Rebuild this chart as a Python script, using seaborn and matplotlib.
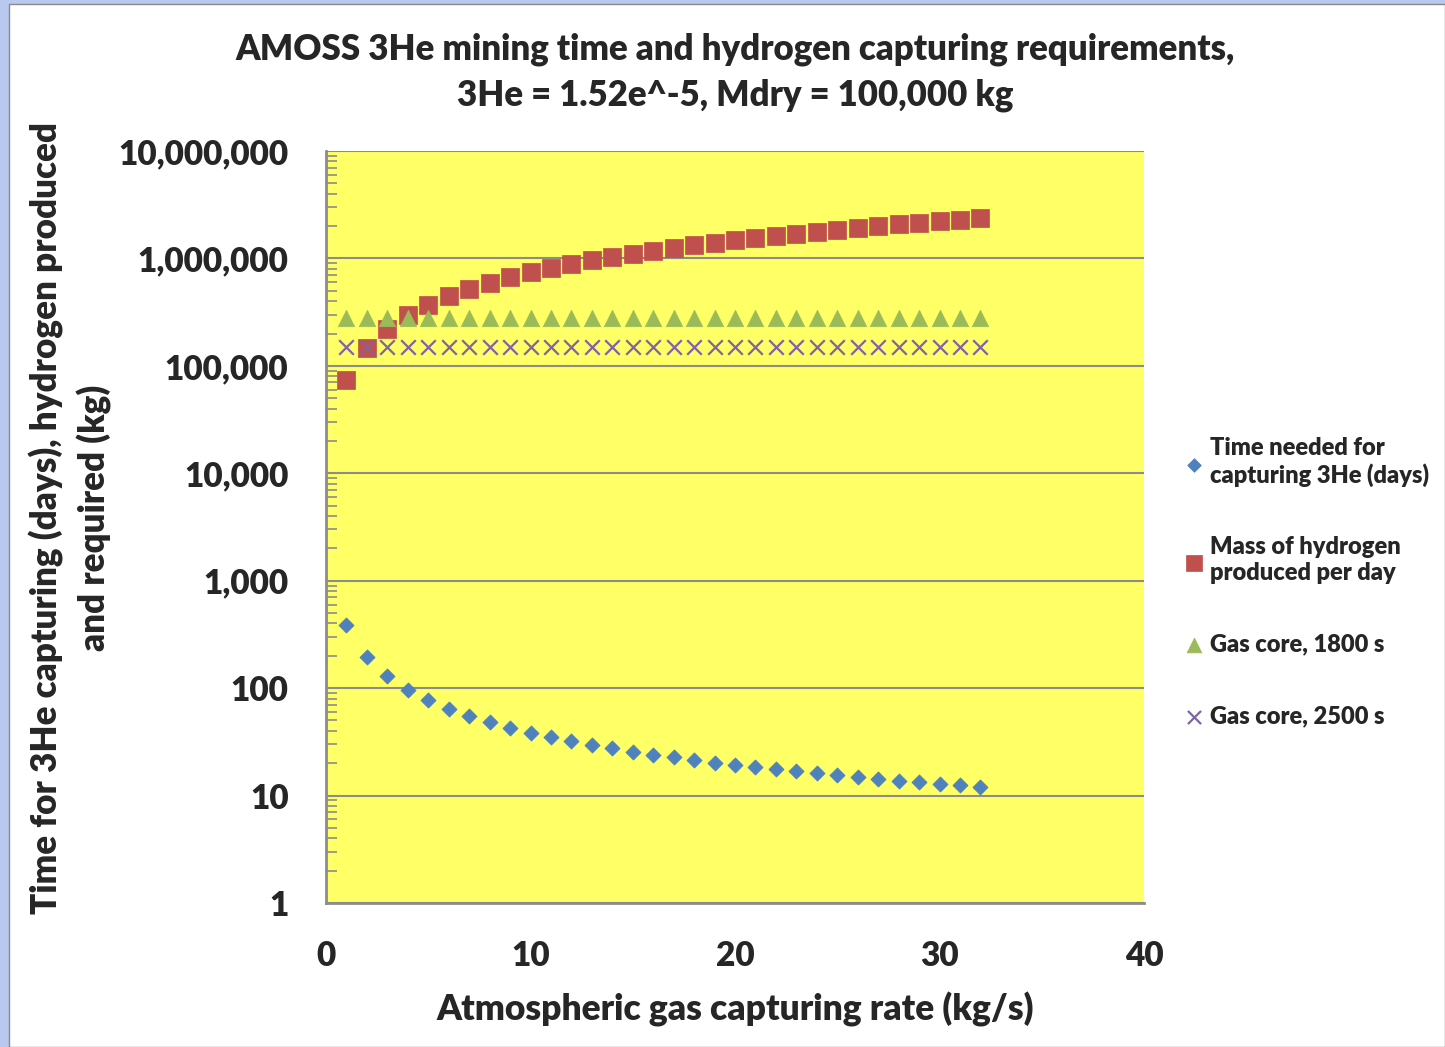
import numpy as np
import pandas as pd
import matplotlib
matplotlib.use('Agg')
import matplotlib.pyplot as plt
from matplotlib.patches import Rectangle
from matplotlib.ticker import FuncFormatter, LogLocator, NullFormatter
import seaborn as sns

# capturing rate (kg/s)
rate = list(range(1, 33))

# time needed for capturing 3He (days)
time_days = [386, 193, 129, 97, 77, 64, 55, 48, 43, 38.6, 35.1, 32.2, 29.7, 27.6,
             25.7, 24.1, 22.7, 21.4, 20.3, 19.3, 18.4, 17.5, 16.8, 16.1, 15.4,
             14.8, 14.3, 13.8, 13.3, 12.9, 12.5, 12.1]

# mass of hydrogen produced per day (kg)
h2_per_day = [74000, 148000, 222000, 296000, 370000, 444000, 518000, 592000,
              666000, 740000, 814000, 888000, 962000, 1036000, 1110000, 1184000,
              1258000, 1332000, 1406000, 1480000, 1554000, 1628000, 1702000,
              1776000, 1850000, 1924000, 1998000, 2072000, 2146000, 2220000,
              2294000, 2368000]

# required hydrogen, gas core engines (kg)
gas_core_1800 = [279000] * 32
gas_core_2500 = [150000] * 32

series_names = ['Time needed for\ncapturing 3He (days)',
                'Mass of hydrogen\nproduced per day',
                'Gas core, 1800 s',
                'Gas core, 2500 s']

df = pd.DataFrame({
    'rate': rate * 4,
    'value': time_days + h2_per_day + gas_core_1800 + gas_core_2500,
    'series': sum([[n] * 32 for n in series_names], []),
})

colors = ['#4F81BD', '#C0504D', '#9BBB59', '#8064A2']
markers = ['D', 's', '^', 'x']
sizes = [60, 150, 140, 110]

sns.set_style('white')
plt.rcParams['font.family'] = ['Lato', 'DejaVu Sans']
plt.rcParams['font.weight'] = 'heavy'

fig = plt.figure(figsize=(14.45, 10.47), dpi=100)
fig.patch.set_facecolor('#B8C8EE')
fig.patches.append(Rectangle((9 / 1445, 0), 1 - 9 / 1445, 1 - 4 / 1047,
                             transform=fig.transFigure, facecolor='white',
                             edgecolor='#8A8A8A', linewidth=1, zorder=-1))

ax = fig.add_axes([326 / 1445, 1 - 903 / 1047, 818 / 1445, 752 / 1047])
ax.set_facecolor('#FFFF66')

for name, c, m, s in zip(series_names, colors, markers, sizes):
    sub = df[df['series'] == name]
    if m == 'x':
        sns.scatterplot(data=sub, x='rate', y='value', ax=ax, marker=m, s=s,
                        color=c, linewidth=1.6, label=name, zorder=3)
    else:
        sns.scatterplot(data=sub, x='rate', y='value', ax=ax, marker=m, s=s,
                        color=c, edgecolor=c, linewidth=0.5, label=name, zorder=3)

ax.set_yscale('log')
ax.set_ylim(1, 1e7)
ax.set_xlim(0, 40)
ax.set_xticks([0, 10, 20, 30, 40])
ax.yaxis.set_major_locator(LogLocator(base=10, numticks=10))
ax.yaxis.set_minor_locator(LogLocator(base=10, subs=np.arange(2, 10), numticks=100))
ax.yaxis.set_minor_formatter(NullFormatter())
ax.yaxis.set_major_formatter(FuncFormatter(lambda v, p: f'{int(round(v)):,}'))

ax.grid(True, which='major', axis='y', color='#8C8C8C', linewidth=1.5)
ax.set_axisbelow(True)
ax.tick_params(axis='x', length=0, pad=27, labelsize=24)
ax.tick_params(axis='y', which='major', length=0, pad=27, labelsize=24)
ax.tick_params(axis='y', which='minor', direction='in', length=8,
               width=1.2, color='#8C8C8C', left=True)
for lbl in ax.get_xticklabels() + ax.get_yticklabels():
    lbl.set_fontweight('heavy')

for side in ['top', 'right']:
    ax.spines[side].set_visible(False)
for side in ['left', 'bottom']:
    ax.spines[side].set_color('#8C8C8C')
    ax.spines[side].set_linewidth(2)

ax.set_xlabel('Atmospheric gas capturing rate (kg/s)', fontsize=25.5,
              fontweight='heavy', labelpad=14)
ax.set_ylabel('Time for 3He capturing (days), hydrogen produced\nand required (kg)',
              fontsize=25.2, fontweight='heavy', linespacing=1.45)
ax.yaxis.set_label_coords((112 - 326) / 818, (903 - 518) / 752)
ax.set_title('AMOSS 3He mining time and hydrogen capturing requirements,\n'
             '3He = 1.52e^-5, Mdry = 100,000 kg', fontsize=25,
             fontweight='heavy', pad=33, linespacing=1.45)

ax.legend(loc='upper left', bbox_to_anchor=(1.035, 0.632), frameon=False,
          labelspacing=2.1, handletextpad=0.2, handlelength=1.0,
          markerscale=0.9, borderaxespad=0,
          prop={'weight': 'heavy', 'size': 17})

fig.savefig('out.png', dpi=100, facecolor=fig.get_facecolor())
